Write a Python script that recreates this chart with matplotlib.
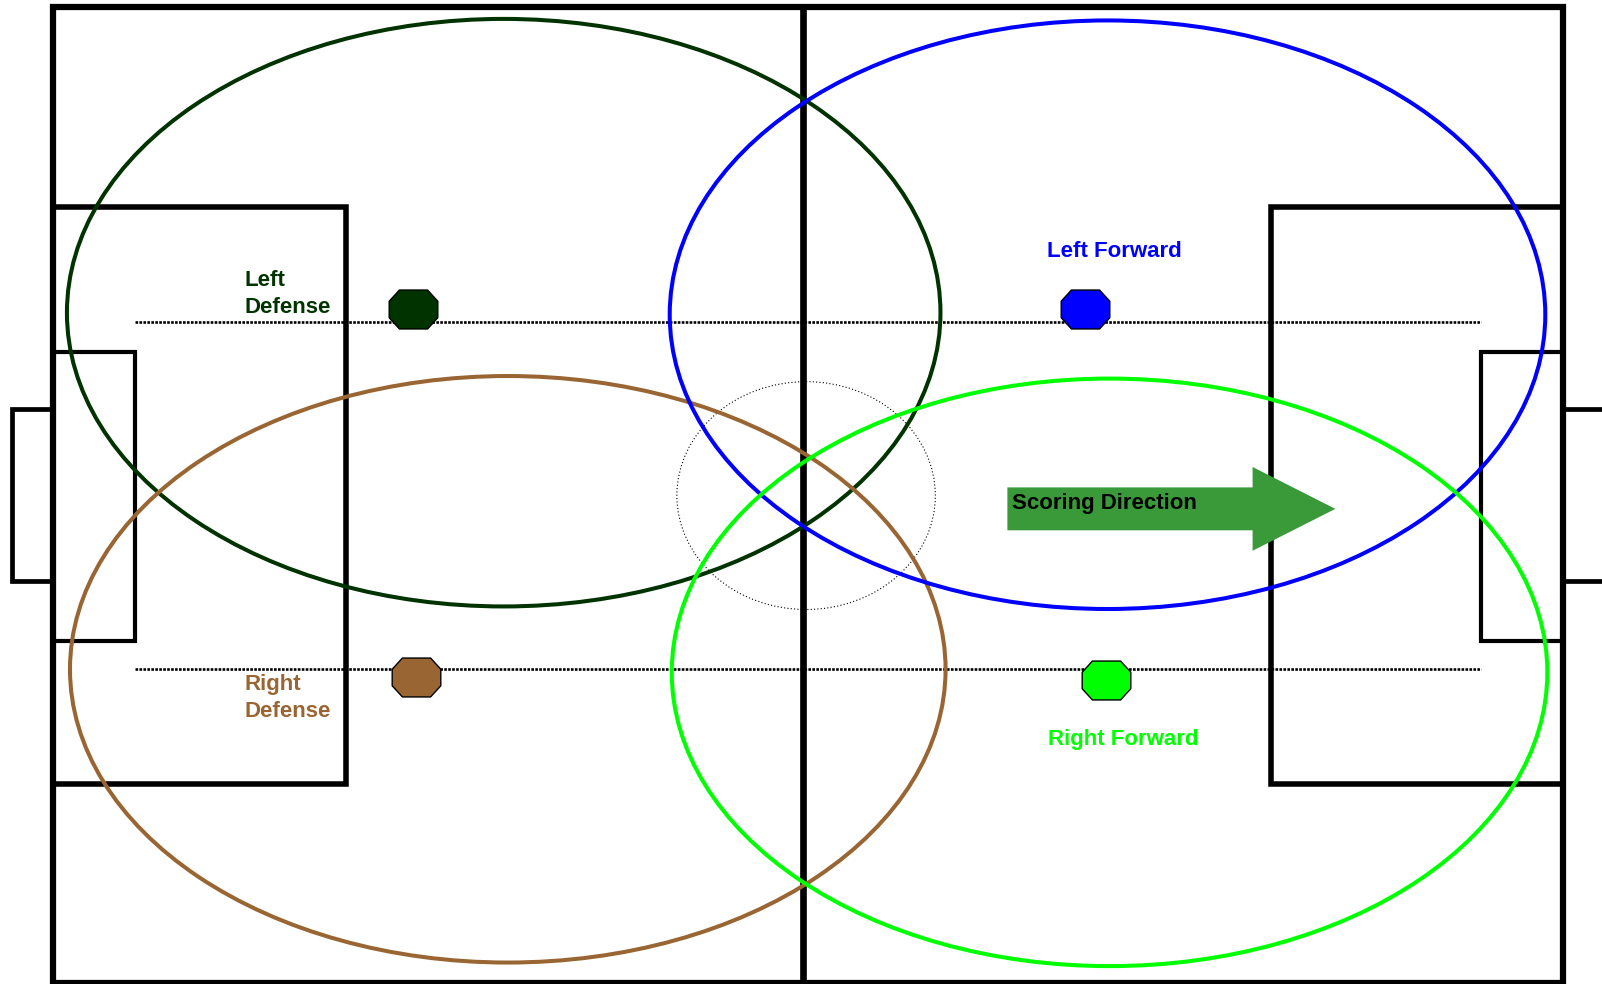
import matplotlib
matplotlib.use("Agg")
import matplotlib.pyplot as plt
from matplotlib.patches import Rectangle, Ellipse, FancyArrow
from matplotlib.path import Path
import numpy as np

plt.rcParams['font.family'] = ['Liberation Sans', 'DejaVu Sans']

# ---- field geometry (display pixel units) ----
field = (52, 7, 1530, 962)            # x0, y0, x1, y1
midline_x = 786
penalty_left = (52, 203, 339, 767)
penalty_right = (1244, 203, 1530, 767)
goalbox_left = (52, 344, 132, 627)
goalbox_right = (1450, 344, 1530, 627)
goal_left = (12, 400, 52, 569)
goal_right = (1530, 400, 1580, 569)
center_circle = (789, 485, 253, 223)  # cx, cy, w, h
lane_y = [315, 655]
lane_x = (132, 1450)

# ---- players ----
players = ["Left Defense", "Right Defense", "Left Forward", "Right Forward"]
colors = ["#003300", "#996633", "#0000ff", "#00ff00"]
marker_x = [404, 407, 1062, 1083]
marker_y = [302, 663, 302, 665]
zone_cx = [493, 497, 1084, 1086]
zone_cy = [306, 655, 308, 658]
zone_w = [855, 857, 857, 857]
zone_h = [575, 574, 576, 575]
label_text = ["Left\nDefense", "Right\nDefense", "Left Forward", "Right Forward"]
label_x = [239, 239, 1091, 1099]
label_y = [288, 683, 246, 724]
label_ha = ["left", "left", "center", "center"]

# ---- arrow ----
arrow_start = (986, 498)
arrow_end = (1307, 498)
arrow_text = "Scoring Direction"

fig = plt.figure(figsize=(16.02, 9.84), dpi=100)
ax = fig.add_axes([0, 0, 1, 1])
ax.set_xlim(0, 1568)
ax.set_ylim(963, 0)
ax.axis('off')

def rect(b, lw, z=2):
    x0, y0, x1, y1 = b
    ax.add_patch(Rectangle((x0, y0), x1 - x0, y1 - y0, fill=False,
                           edgecolor='black', linewidth=lw, zorder=z,
                           joinstyle='miter'))

rect(goal_left, 3.4)
rect(goal_right, 3.4)
rect(goalbox_left, 3.0)
rect(goalbox_right, 3.0)
rect(penalty_left, 4.0)
rect(penalty_right, 4.0)
rect(field, 4.5)
ax.plot([midline_x, midline_x], [field[1], field[3]], color='black', lw=4.8, zorder=2)

cx, cy, cw, ch = center_circle
ax.add_patch(Ellipse((cx, cy), cw, ch, fill=False, edgecolor='black',
                     linewidth=0.8, linestyle=(0, (1, 2)), zorder=2))

for y in lane_y:
    ax.plot(lane_x, [y, y], color='black', lw=1.9, linestyle=(0, (1, 0.5)), zorder=2)

for i in range(len(players)):
    ax.add_patch(Ellipse((zone_cx[i], zone_cy[i]), zone_w[i], zone_h[i], fill=False,
                         edgecolor=colors[i], linewidth=2.9, zorder=3))

# stretched octagon marker
octa = np.array([(0.58, 0.8), (1, 0.34), (1, -0.34), (0.58, -0.8),
                 (-0.58, -0.8), (-1, -0.34), (-1, 0.34), (-0.58, 0.8), (0.58, 0.8)])
octa_path = Path(octa, closed=True)
for i in range(len(players)):
    ax.plot([marker_x[i]], [marker_y[i]], marker=octa_path, markersize=35,
            markerfacecolor=colors[i], markeredgecolor='black', markeredgewidth=1.0,
            linestyle='none', zorder=4)

for i in range(len(players)):
    ax.text(label_x[i], label_y[i], label_text[i], color=colors[i], fontsize=16,
            fontweight='bold', ha=label_ha[i], va='center', linespacing=1.4, zorder=5)

ax.add_patch(FancyArrow(arrow_start[0], arrow_start[1], arrow_end[0] - arrow_start[0], 0,
                        width=42, head_width=82, head_length=81,
                        length_includes_head=True, color='#3a9a3a', linewidth=0, zorder=4))
ax.text(991, 493, arrow_text, color='black', fontsize=16, fontweight='bold',
        ha='left', va='center', zorder=5)

fig.savefig("out.png", dpi=100)
